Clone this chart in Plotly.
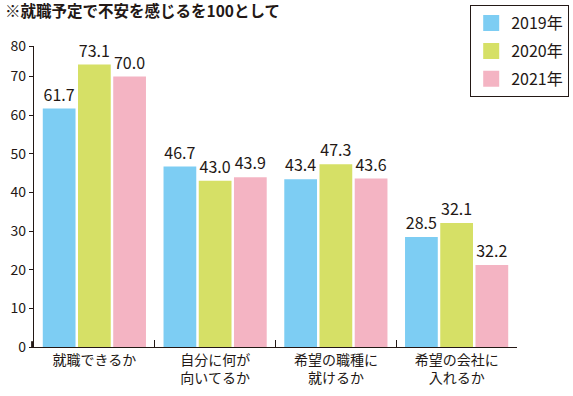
import plotly.graph_objects as go

categories = ["就職できるか", "自分に何が<br>向いてるか", "希望の職種に<br>就けるか", "希望の会社に<br>入れるか"]
years = ["2019年", "2020年", "2021年"]
v2019 = [61.7, 46.7, 43.4, 28.5]
v2020 = [73.1, 43.0, 47.3, 32.1]
v2021 = [70.0, 43.9, 43.6, 21.2]
labels2019 = ["61.7", "46.7", "43.4", "28.5"]
labels2020 = ["73.1", "43.0", "47.3", "32.1"]
labels2021 = ["70.0", "43.9", "43.6", "32.2"]
tick_vals = [0, 10, 20, 30, 40, 50, 60, 70, 77.9]
tick_text = ["0", "10", "20", "30", "40", "50", "60", "70", "80"]
title_text = "※就職予定で不安を感じるを100として"

colors = ["#7dcdf3", "#d6e066", "#f4b4c3"]
FONT = "Noto Sans CJK JP"
INK = "#231815"

fig = go.Figure()
for i, (name, vals, labs) in enumerate(zip(years, [v2019, v2020, v2021], [labels2019, labels2020, labels2021])):
    fig.add_trace(go.Bar(
        x=categories, y=vals, name=name, text=labs,
        textposition="outside", cliponaxis=False,
        textfont=dict(family=FONT, size=16, color=INK),
        marker=dict(color=colors[i], line=dict(width=0)),
        legendgroup=name, showlegend=False,
    ))
    # legend swatch (larger square, same series)
    fig.add_trace(go.Scatter(
        x=[None], y=[None], mode="markers", name=name, legendgroup=name,
        marker=dict(symbol="square", size=20, color=colors[i], line=dict(width=0)),
        hoverinfo="skip",
    ))

fig.update_layout(
    width=573, height=396,
    margin=dict(l=34, r=56, t=46, b=49, autoexpand=False),
    paper_bgcolor="white", plot_bgcolor="white",
    barmode="group", bargap=0.125, bargroupgap=0.07,
    font=dict(family=FONT, color=INK),
    title=dict(text=title_text, x=5/573, xanchor="left", y=1-12/396, yanchor="middle",
               xref="container", yref="container",
               font=dict(family=FONT, size=15.5, color=INK, weight="bold")),
    legend=dict(x=(470-34)/483, xanchor="left", y=(396-49-5)/301, yanchor="top",
                bordercolor=INK, borderwidth=1.2, bgcolor="white",
                font=dict(family=FONT, size=16, color=INK),
                tracegroupgap=4, itemwidth=30, itemsizing="trace"),
    xaxis=dict(showline=True, linecolor=INK, linewidth=1.2, ticks="inside",
               tickson="boundaries", ticklen=7, tickcolor=INK, tickwidth=1.2,
               tickfont=dict(family=FONT, size=14, color=INK), showgrid=False),
    yaxis=dict(range=[0, 77.9], showline=True, linecolor=INK, linewidth=1.2,
               ticks="outside", ticklen=4, tickcolor=INK, tickwidth=1.2,
               tickvals=tick_vals, ticktext=tick_text, showgrid=False, zeroline=False,
               tickfont=dict(family=FONT, size=14, color=INK)),
)

fig.add_shape(type="rect", xref="paper", yref="y", x0=-0.006, x1=0.0, y0=0, y1=1.5,
              fillcolor=INK, line=dict(width=0))

fig.write_html("out.html", config={"displayModeBar": False},
               post_script="document.body.style.margin='0';document.body.style.overflow='hidden';")
